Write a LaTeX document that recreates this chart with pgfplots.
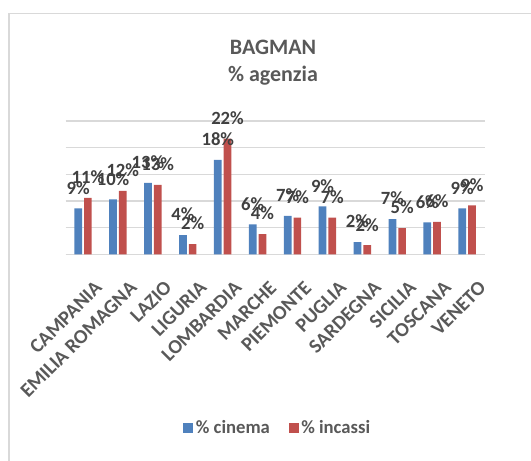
\documentclass[border=0pt]{standalone}
\usepackage{pgfplots}
\pgfplotsset{compat=1.18}
\usepackage{fontspec}
\setmainfont{Carlito}
\definecolor{cblue}{HTML}{4F81BD}
\definecolor{cred}{HTML}{C0504D}
\definecolor{txt}{HTML}{595959}
\definecolor{lbl}{HTML}{404040}
\definecolor{gridc}{HTML}{D9D9D9}
\begin{document}
\begin{tikzpicture}
\path[use as bounding box] (0,0) rectangle ({531*0.75pt},{-460*0.75pt});
\draw[gridc, line width=1.1pt] ({9*0.75pt},{-470*0.75pt}) -- ({9*0.75pt},{-13.5*0.75pt}) -- ({540*0.75pt},{-13.5*0.75pt});
\node[anchor=base, text=txt, font=\bfseries\fontsize{16.5}{19}\selectfont] at ({273*0.75pt},{-55*0.75pt}) {BAGMAN};
\node[anchor=base, text=txt, font=\bfseries\fontsize{16.5}{19}\selectfont] at ({273*0.75pt},{-81*0.75pt}) {\% agenzia};
\begin{axis}[
  at={({83*0.75pt},{-254.3*0.75pt})}, anchor=origin,
  scale only axis, width={419*0.75pt}, height={133.3*0.75pt},
  xmin=-0.5, xmax=11.5, ymin=0, ymax=25,
  ybar=1.5pt, bar width=5.8pt,
  axis x line*=bottom, axis y line*=left,
  x axis line style={gridc, line width=1pt},
  y axis line style={draw=none},
  ytick={0,5,10,15,20,25}, yticklabels={},
  ymajorgrids, grid style={gridc, line width=0.9pt},
  major tick length=0pt,
  xtick={0,...,11},
  xticklabels={CAMPANIA,EMILIA ROMAGNA,LAZIO,LIGURIA,LOMBARDIA,MARCHE,PIEMONTE,PUGLIA,SARDEGNA,SICILIA,TOSCANA,VENETO},
  xticklabel style={xshift=8pt, yshift=-19pt, rotate=45, anchor=north east, inner sep=0pt, text=txt, font=\bfseries\fontsize{15}{17}\selectfont},
  /pgf/number format/assume math mode=true,
  nodes near coords={\pgfmathprintnumber[fixed,precision=0]{\pgfplotspointmeta}\%},
  every node near coord/.append style={text=lbl, font=\bfseries\fontsize{14}{16}\selectfont, yshift=7pt},
  clip=false,
  legend style={at={(0.507,-1.303)}, anchor=center, draw=none, legend columns=2,
     font=\bfseries\fontsize{14}{16}\selectfont, text=txt,
     /tikz/every even column/.append style={column sep=12pt}},
  legend image code/.code={\fill[#1] (0pt,-3.75pt) rectangle (7.5pt,3.75pt);},
]
\addplot[fill=cblue, draw=none] coordinates {
(0,8.6) (1,10.3) (2,13.4) (3,3.6) (4,17.7) (5,5.6) (6,7.2) (7,9.0) (8,2.3) (9,6.6) (10,6.0) (11,8.6)};
\addplot[fill=cred, draw=none] coordinates {
(0,10.6) (1,11.9) (2,13.0) (3,1.9) (4,21.7) (5,3.8) (6,6.9) (7,6.9) (8,1.7) (9,4.9) (10,6.1) (11,9.2)};
\legend{\% cinema,\% incassi}
\end{axis}
\end{tikzpicture}
\end{document}
